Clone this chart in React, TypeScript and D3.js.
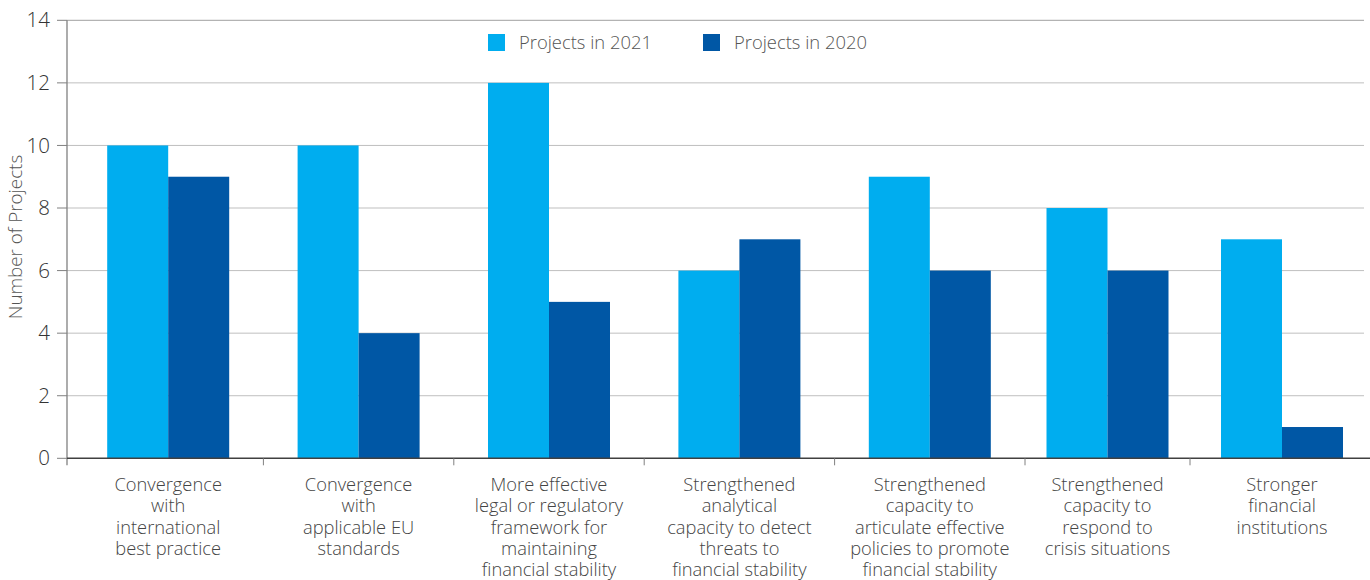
import React from "react";
import * as d3 from "d3";

const categories: string[][] = [
  ["Convergence", "with", "international", "best practice"],
  ["Convergence", "with", "applicable EU", "standards"],
  ["More effective", "legal or regulatory", "framework for", "maintaining", "financial stability"],
  ["Strengthened", "analytical", "capacity to detect", "threats to", "financial stability"],
  ["Strengthened", "capacity to", "articulate effective", "policies to promote", "financial stability"],
  ["Strengthened", "capacity to", "respond to", "crisis situations"],
  ["Stronger", "financial", "institutions"],
];
const projects2021 = [10, 10, 12, 6, 9, 8, 7];
const projects2020 = [9, 4, 5, 7, 6, 6, 1];
const yTicks = [0, 2, 4, 6, 8, 10, 12, 14];
const seriesNames = ["Projects in 2021", "Projects in 2020"];
const colors = ["#00adef", "#0057a5"];

const W = 1370;
const H = 580;
const FONT = "'Open Sans', 'Noto Sans', sans-serif";

export default function App() {
  const y = d3.scaleLinear().domain([0, 14]).range([458.3, 20.3]);
  // band boundaries (index -> x)
  const xb = d3.scaleLinear().domain([0, 5, 6, 7]).range([73, 1025, 1190, 1374]);
  const axisX = 67;
  const barW = 61;
  const center = (i: number) => (xb(i) + xb(i + 1)) / 2;

  return (
    <svg width={W} height={H} style={{ display: "block", position: "absolute", left: 0, top: 0 }} fontFamily={FONT}>
      <rect width={W} height={H} fill="#fff" />
      {/* gridlines */}
      {yTicks.filter((t) => t > 0).map((t) => (
        <line key={t} x1={axisX} x2={1364} y1={y(t)} y2={y(t)} stroke={t === 14 ? "#a0a0a0" : "#bfbfbf"} strokeWidth={1} />
      ))}
      {/* bars */}
      {categories.map((_, i) => (
        <g key={i}>
          <rect x={center(i) - barW} y={y(projects2021[i])} width={barW} height={y(0) - y(projects2021[i])} fill={colors[0]} />
          <rect x={center(i)} y={y(projects2020[i])} width={barW} height={y(0) - y(projects2020[i])} fill={colors[1]} />
        </g>
      ))}
      {/* y axis */}
      <line x1={axisX} x2={axisX} y1={y(14)} y2={y(0) + 7} stroke="#808080" strokeWidth={1.3} />
      {yTicks.map((t) => (
        <g key={t}>
          <line x1={57} x2={axisX} y1={y(t)} y2={y(t)} stroke="#808080" strokeWidth={1} />
          <text x={50} y={y(t)} dy="0.35em" textAnchor="end" fontSize={20.5} fontWeight={300} fill="#333">
            {t}
          </text>
        </g>
      ))}
      {/* x axis */}
      <line x1={axisX} x2={1370} y1={y(0)} y2={y(0)} stroke="#404040" strokeWidth={1.5} />
      {d3.range(1, 7).map((i) => (
        <line key={i} x1={xb(i)} x2={xb(i)} y1={y(0)} y2={y(0) + 7} stroke="#808080" strokeWidth={1} />
      ))}
      {/* category labels */}
      {categories.map((lines, i) => (
        <text key={i} x={center(i)} y={491} textAnchor="middle" fontSize={18.3} fontWeight={300} fill="#444">
          {lines.map((l, j) => (
            <tspan key={j} x={center(i)} y={491 + j * 21.3}>
              {l}
            </tspan>
          ))}
        </text>
      ))}
      {/* y label */}
      <text transform={`translate(22,237) rotate(-90)`} textAnchor="middle" fontSize={18.8} fontWeight={300} fill="#555">
        Number of Projects
      </text>
      {/* legend */}
      {seriesNames.map((n, i) => (
        <g key={n} transform={`translate(${488 + i * 215},34)`}>
          <rect width={17} height={17} fill={colors[i]} />
          <text x={31} y={15} fontSize={18.4} fontWeight={300} fill="#555">
            {n}
          </text>
        </g>
      ))}
    </svg>
  );
}
